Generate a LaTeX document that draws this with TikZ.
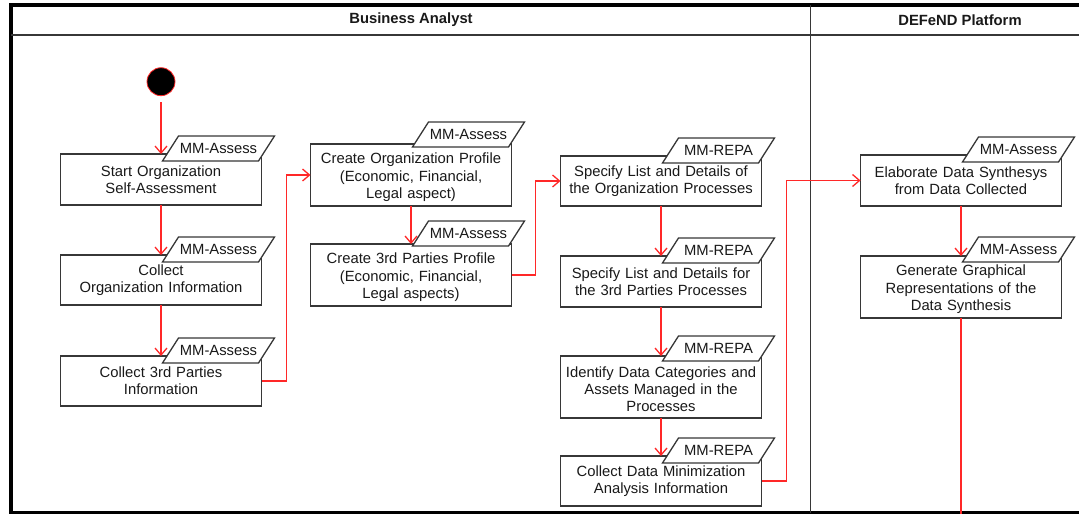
\documentclass[tikz,border=0pt]{standalone}
\usepackage{fontspec}
\setmainfont{Liberation Sans}
\usetikzlibrary{arrows.meta}
\definecolor{flow}{RGB}{255,40,40}
\definecolor{edge}{RGB}{55,55,55}
\definecolor{ink}{RGB}{25,25,25}
\newcommand\mmtag[4][7]{%
  \draw[tagshape] ([shift={(-99,#1)}]#2.north east) -- ([shift={(-3,#1)}]#2.north east)
     -- ([shift={(13,#1-25)}]#2.north east) -- ([shift={(-83,#1-25)}]#2.north east) -- cycle;
  \node[tagtext] (#3) at ([shift={(-43,#1-12.5)}]#2.north east) {#4};
}
\newcommand\topstrut{\rule{0pt}{15.5pt}}
\begin{document}
\begin{tikzpicture}[x=1pt,y=-1pt,
  actbox/.style={draw=edge,line width=1.3pt,fill=white,minimum width=201pt,text width=201pt,
    align=center,inner sep=0pt,outer sep=0pt,font=\fontsize{14.8}{17.3}\selectfont,text=ink},
  tagshape/.style={draw=edge,line width=1.3pt,fill=white,line join=miter},
  tagtext/.style={inner sep=0pt,font=\fontsize{14.8}{17.3}\selectfont,text=ink},
  lanehead/.style={inner sep=0pt,font=\fontsize{14.8}{17.3}\selectfont\bfseries,text=ink},
  laneline/.style={draw=edge,line width=1.5pt},
  flowarrow/.style={draw=flow,line width=1.3pt,-{Straight Barb[length=7pt,width=12pt,line width=1.3pt]}},
  flowline/.style={draw=flow,line width=1.3pt}]
\useasboundingbox (0,0) rectangle (1079,514);
\clip (0,0) rectangle (1079,514);
% frame and lanes
\draw[line width=3.4pt,black] (11,5) rectangle (1112,512.8);
\draw[laneline] (11,35) -- (1079,35);
\draw[laneline] (810.5,5) -- (810.5,512.8);
\node[lanehead] (ba) at (411,20) {Business Analyst};
\node[lanehead] (dp) at (960,20) {DEFeND Platform};
% start
\node[circle,fill=black,draw=flow,line width=0.8pt,minimum size=28pt,inner sep=0pt] (start) at (161,81.7) {};
% boxes
\node[actbox,minimum height=51pt] (b1) at (161,179.5) {Start Organization\\Self-Assessment};
\node[actbox,minimum height=50pt] (b2) at (161,280) {Collect\\Organization Information};
\node[actbox,minimum height=50pt] (b3) at (161,381) {Collect 3rd Parties\\Information};
\node[actbox,minimum height=62pt] (b4) at (411,175) {\topstrut Create Organization Profile\\(Economic, Financial,\\Legal aspect)};
\node[actbox,minimum height=62pt] (b5) at (411,275) {\topstrut Create 3rd Parties Profile\\(Economic, Financial,\\Legal aspects)};
\node[actbox,minimum height=50pt] (b6) at (661,181) {Specify List and Details of\\the Organization Processes};
\node[actbox,minimum height=51pt] (b7) at (661,281.5) {Specify List and Details for\\the 3rd Parties Processes};
\node[actbox,minimum height=62pt] (b8) at (661,387) {\topstrut Identify Data Categories and\\Assets Managed in the\\Processes};
\node[actbox,minimum height=50pt] (b9) at (661,481) {Collect Data Minimization\\Analysis Information};
\node[actbox,minimum height=51pt] (b10) at (961,180.5) {Elaborate Data Synthesys\\from Data Collected};
\node[actbox,minimum height=62pt] (b11) at (961,287) {\topstrut Generate Graphical\\Representations of the\\Data Synthesis};
\coordinate (exit) at (961,516);
% connectors
\draw[flowarrow,shorten <=6pt] (start) -- (b1);
\draw[flowarrow] (b1) -- (b2);
\draw[flowarrow] (b2) -- (b3);
\draw[flowarrow] (b3.east) -- ++(25,0) |- (b4.west);
\draw[flowarrow] (b4) -- (b5);
\draw[flowarrow] (b5.east) -- ++(24,0) |- (b6.west);
\draw[flowarrow] (b6) -- (b7);
\draw[flowarrow] (b7) -- (b8);
\draw[flowarrow] (b8) -- (b9);
\draw[flowarrow] (b9.east) -- ++(25,0) |- (b10.west);
\draw[flowarrow] (b10) -- (b11);
\draw[flowline] (b11) -- (exit);
% tags
\mmtag{b1}{t1}{MM-Assess}
\mmtag{b2}{t2}{MM-Assess}
\mmtag{b3}{t3}{MM-Assess}
\mmtag[3]{b4}{t4}{MM-Assess}
\mmtag[2]{b5}{t5}{MM-Assess}
\mmtag{b6}{t6}{MM-REPA}
\mmtag{b7}{t7}{MM-REPA}
\mmtag[5]{b8}{t8}{MM-REPA}
\mmtag{b9}{t9}{MM-REPA}
\mmtag{b10}{t10}{MM-Assess}
\mmtag[6]{b11}{t11}{MM-Assess}
\end{tikzpicture}
\end{document}
